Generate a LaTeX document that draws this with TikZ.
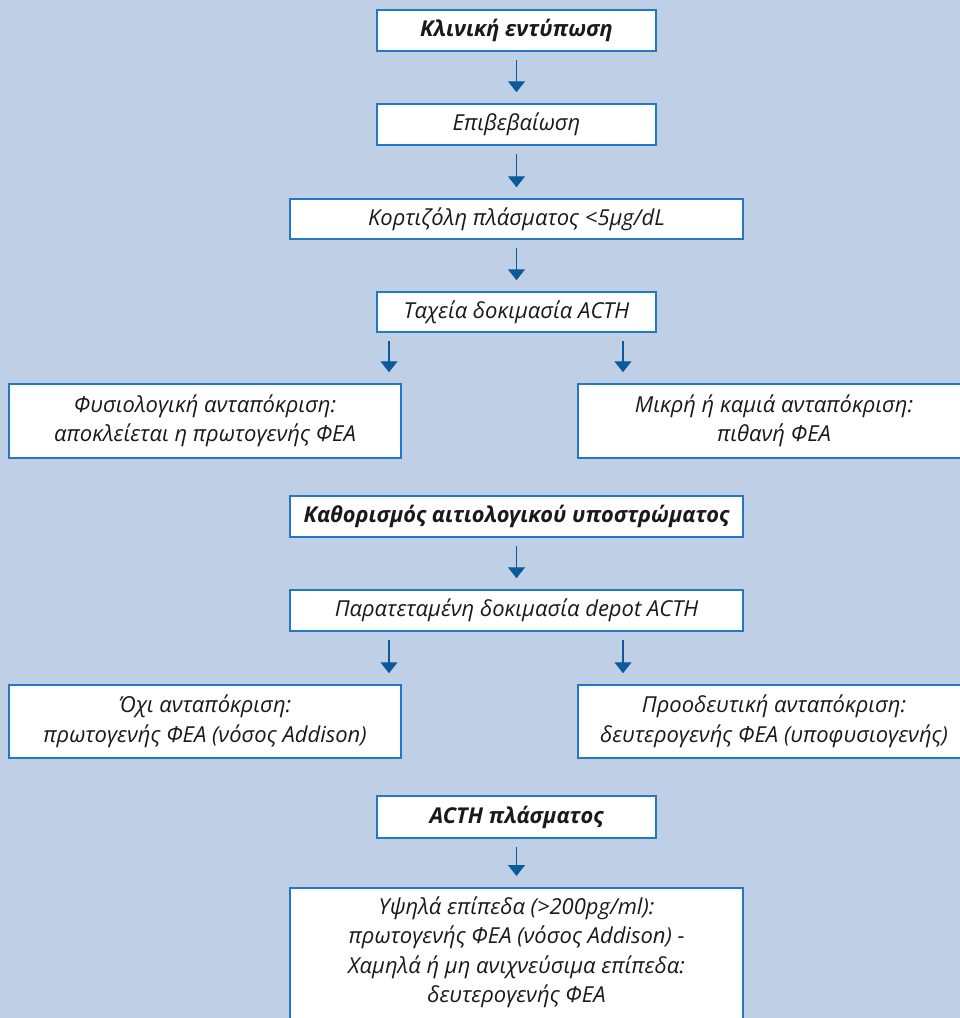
\documentclass[tikz,border=0pt]{standalone}
\usepackage{fontspec}
\setmainfont{Open Sans}
\usetikzlibrary{arrows.meta}
\definecolor{bg}{HTML}{BFD0E6}
\definecolor{frame}{HTML}{2278C4}
\definecolor{arrc}{HTML}{0B5A9B}
\definecolor{ink}{HTML}{1A1A1A}
\begin{document}
\begin{tikzpicture}[x=1pt,y=-1pt,
  box/.style={draw=frame, line width=1.5pt, fill=white, inner sep=0pt, align=center,
    text=ink, font=\itshape\fontsize{22}{29.5}\selectfont},
  bbox/.style={box, font=\bfseries\itshape\fontsize{21.8}{29.5}\selectfont},
  arr/.style={draw=arrc, line width=1.3pt, -{Triangle[width=17pt,length=11pt]},
    shorten <=8.5pt, shorten >=11pt}]
\useasboundingbox (0,0) rectangle (960,1018);
\clip (0,0) rectangle (960,1018);
\fill[bg] (0,0) rectangle (960,1018);

\node[bbox, minimum width=279pt, minimum height=41pt] (b1) at (516.5,30.5) {Κλινική εντύπωση};
\node[box, minimum width=279pt, minimum height=41pt] (b2) at (516.5,124.5) {Επιβεβαίωση};
\node[box, minimum width=453pt, minimum height=40pt] (b3) at (516.5,219) {Κορτιζόλη πλάσματος <5μg/dL};
\node[box, minimum width=279pt, minimum height=40pt] (b4) at (516.5,312) {Ταχεία δοκιμασία ACTH};
\node[box, minimum width=392pt, minimum height=74pt] (b5) at (205,421) {Φυσιολογική ανταπόκριση:\\ αποκλείεται η πρωτογενής ΦΕΑ};
\node[box, minimum width=392pt, minimum height=74pt] (b6) at (774,421) {Μικρή ή καμιά ανταπόκριση:\\ πιθανή ΦΕΑ};
\node[bbox, minimum width=453pt, minimum height=41pt] (b7) at (516.5,516.5) {Καθορισμός αιτιολογικού υποστρώματος};
\node[box, minimum width=453pt, minimum height=41pt] (b8) at (516.5,610.5) {Παρατεταμένη δοκιμασία depot ACTH};
\node[box, minimum width=392pt, minimum height=73pt] (b9) at (205,721.5) {Όχι ανταπόκριση:\\ πρωτογενής ΦΕΑ (νόσος Addison)};
\node[box, minimum width=392pt, minimum height=73pt] (b10) at (774,721.5) {Προοδευτική ανταπόκριση:\\ δευτερογενής ΦΕΑ (υποφυσιογενής)};
\node[bbox, minimum width=279pt, minimum height=42pt] (b11) at (516.5,817) {ACTH πλάσματος};
\node[box, anchor=north, inner ysep=9pt, inner xsep=6.5pt] (b12) at (516.5,887)
  {\begin{minipage}[t][135pt][t]{440pt}\centering
   Υψηλά επίπεδα (>200pg/ml):\\ πρωτογενής ΦΕΑ (νόσος Addison) -\\
   Χαμηλά ή μη ανιχνεύσιμα επίπεδα:\\ δευτερογενής ΦΕΑ\end{minipage}};

\draw[arr] (b1) -- (b2);
\draw[arr] (b2) -- (b3);
\draw[arr] (b3) -- (b4);
\draw[arr] ([xshift=-127.5pt]b4.south) -- ([xshift=-127.5pt]b4.south |- b5.north);
\draw[arr] ([xshift=106.5pt]b4.south) -- ([xshift=106.5pt]b4.south |- b6.north);
\draw[arr] (b7) -- (b8);
\draw[arr] ([xshift=-127.5pt]b8.south) -- ([xshift=-127.5pt]b8.south |- b9.north);
\draw[arr] ([xshift=106.5pt]b8.south) -- ([xshift=106.5pt]b8.south |- b10.north);
\draw[arr] (b11) -- (b12.north);
\end{tikzpicture}
\end{document}
